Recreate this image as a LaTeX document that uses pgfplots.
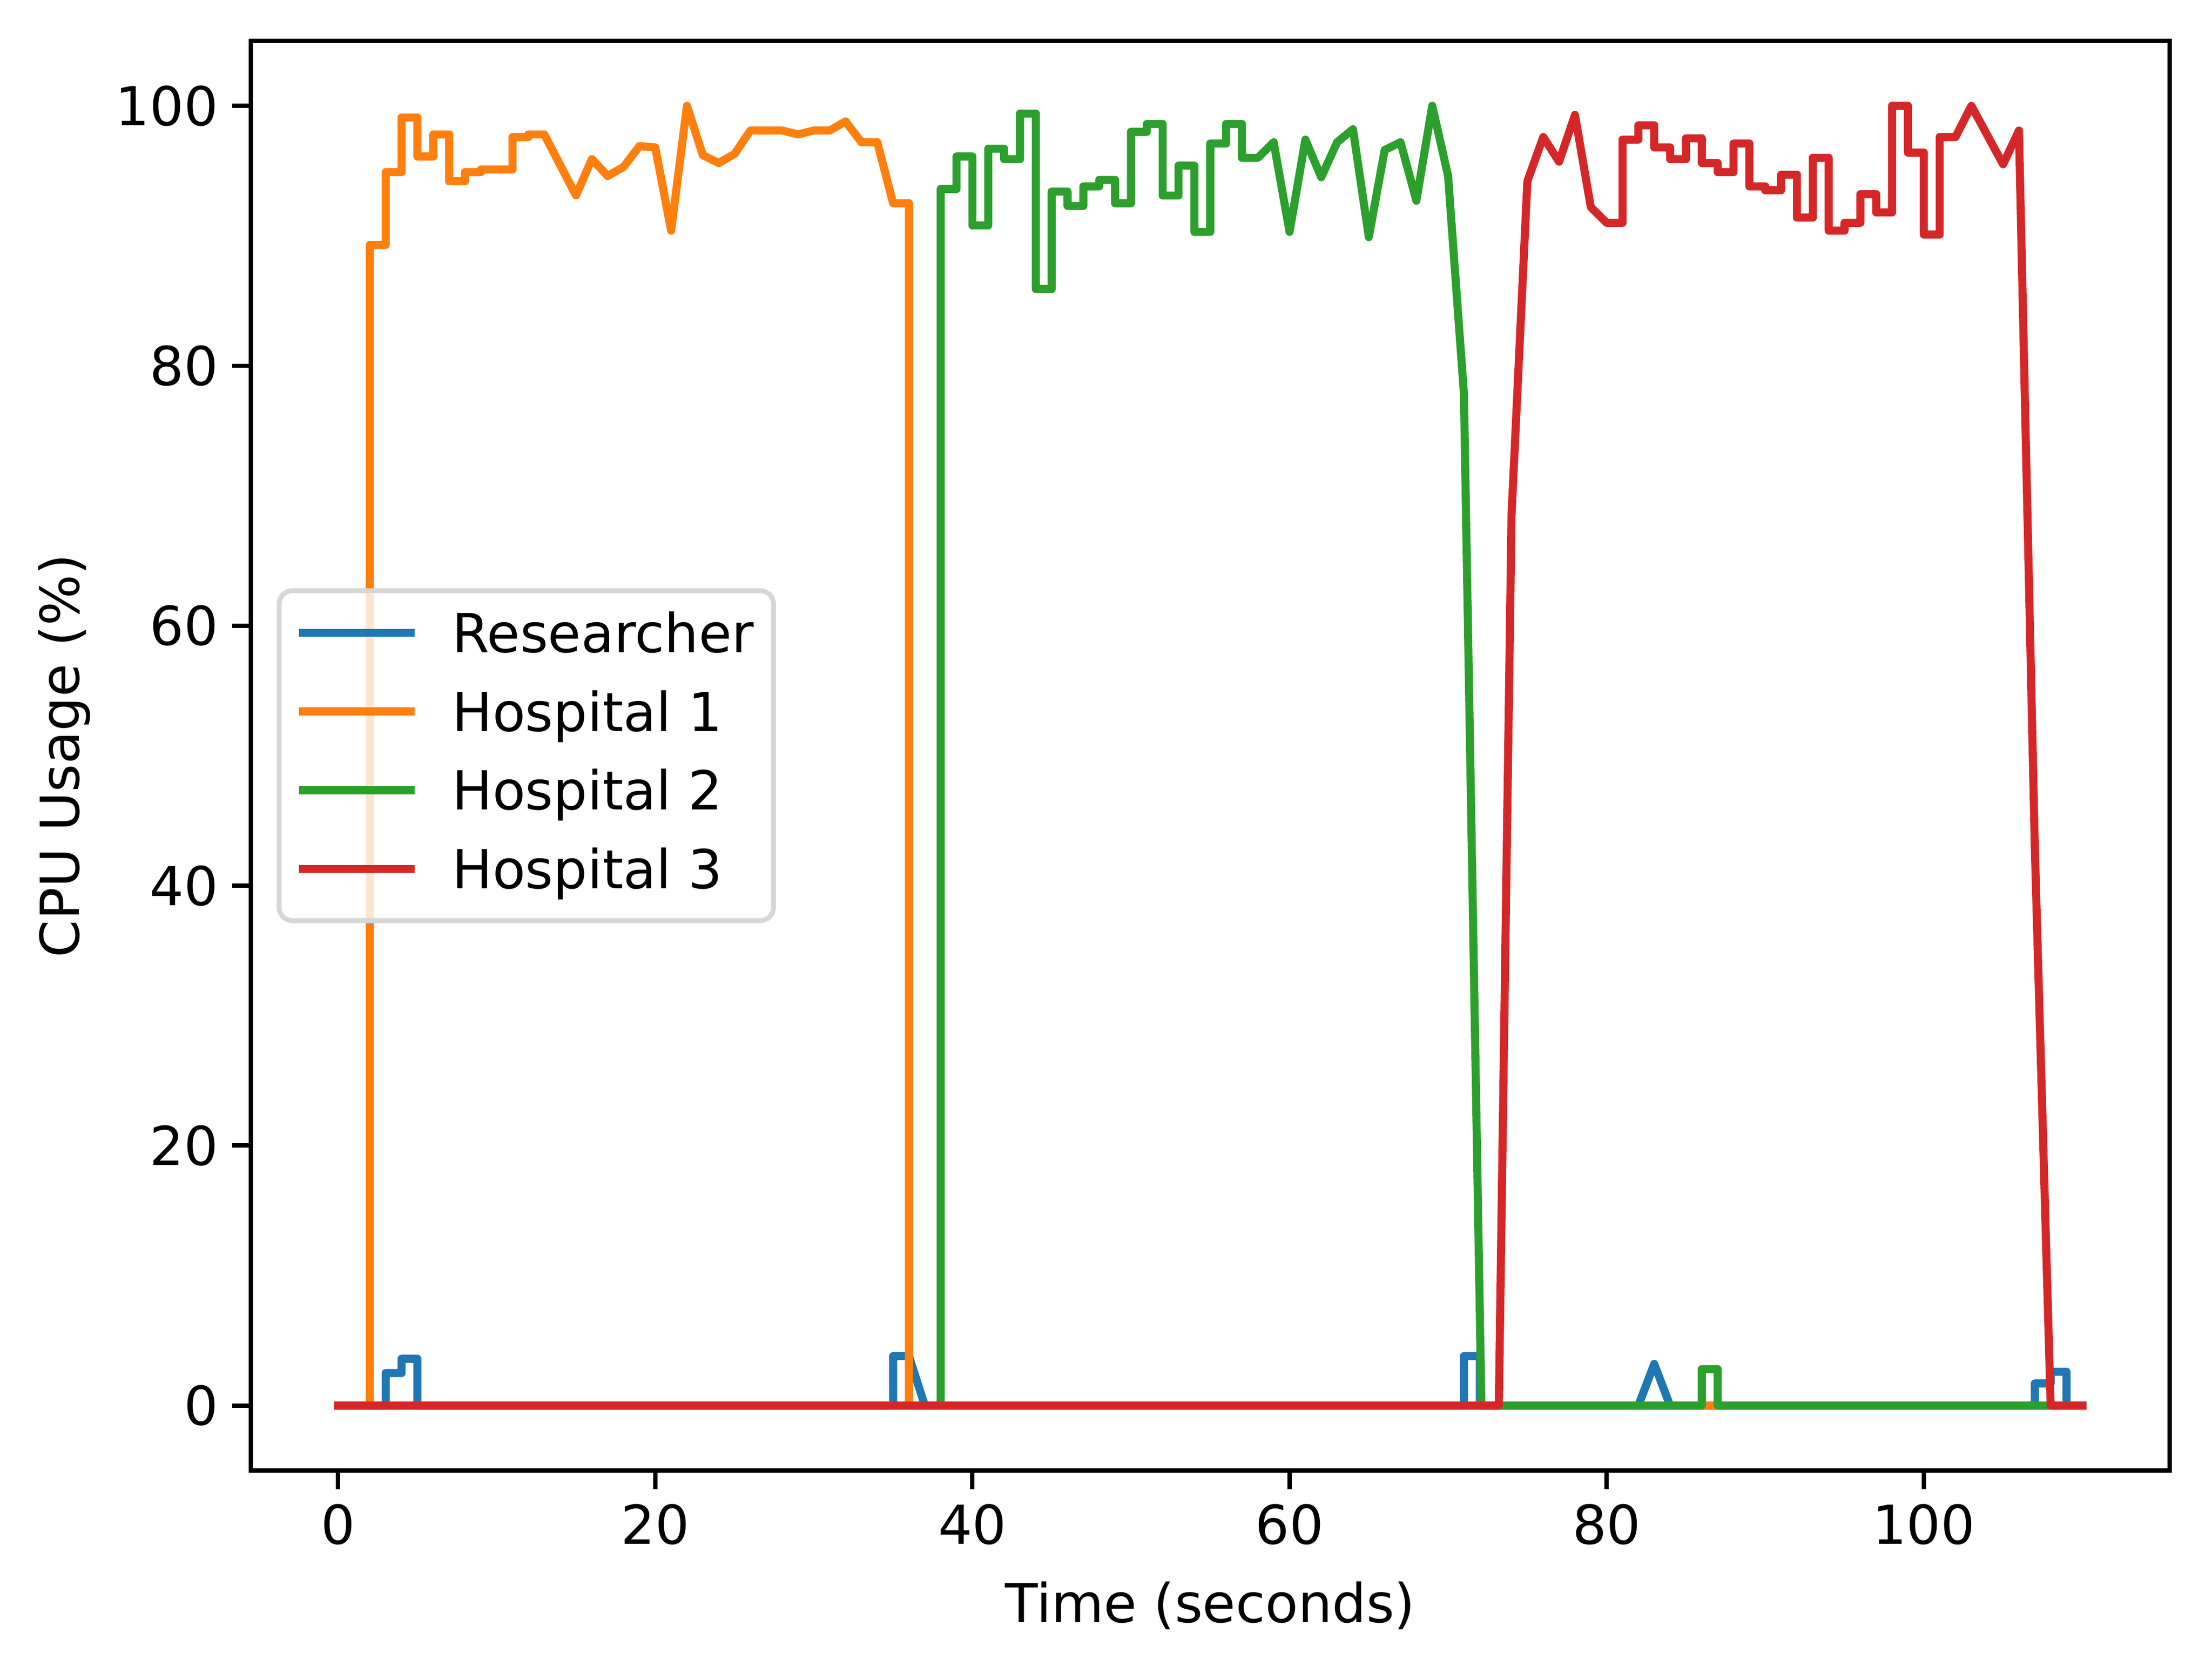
\documentclass[border=0pt]{standalone}
\usepackage{fontspec}
\setmainfont{DejaVu Sans}
\usepackage{pgfplots}
\pgfplotsset{compat=1.18}
\definecolor{c0}{HTML}{1F77B4}
\definecolor{c1}{HTML}{FF7F0E}
\definecolor{c2}{HTML}{2CA02C}
\definecolor{c3}{HTML}{D62728}
\definecolor{legframe}{HTML}{D6D6D6}
\begin{document}
\begin{tikzpicture}
\useasboundingbox (-46.7pt,-37.6pt) rectangle (365.0pt,273.7pt);
\begin{axis}[
  scale only axis,
  width=357.1pt, height=266.1pt,
  xmin=-5.5, xmax=115.5,
  ymin=-5, ymax=105,
  xtick={0,20,40,60,80,100},
  ytick={0,20,40,60,80,100},
  tick pos=left,
  tick align=outside,
  major tick length=3.5pt,
  every tick/.style={black, line width=0.8pt},
  axis line style={line width=0.8pt},
  /pgf/number format/assume math mode=true,
  tick label style={font=\fontsize{10}{12}\selectfont},
  xticklabel style={anchor=north, inner sep=0pt, yshift=-2.6pt},
  yticklabel style={anchor=east, inner sep=0pt, xshift=-2.4pt},
  xlabel={Time (seconds)},
  ylabel={CPU Usage (\%)},
  label style={font=\fontsize{10}{12}\selectfont},
  xlabel style={at={(axis description cs:0.5,0)}, anchor=north, inner sep=0pt, yshift=-20.5pt},
  ylabel style={at={(axis description cs:-0.0896,0.5)}, anchor=base, inner sep=0pt},
  every axis plot/.append style={line width=1.5pt, line join=round, line cap=rect},
  legend image code/.code={\draw[line cap=rect] (0pt,3.65pt) -- (20pt,3.65pt);},
  legend style={
    at={(rel axis cs:0,0.5)}, anchor=west, xshift=4.8pt,
    draw=legframe, line width=0.9pt, rounded corners=2.5pt,
    fill=white, fill opacity=0.8, text opacity=1,
    inner xsep=3.7pt, inner ysep=4.2pt,
    row sep=5.54pt, column sep=7pt,
    font=\fontsize{10}{12}\selectfont,
    cells={anchor=base west},
    nodes={inner sep=0pt, text height=7.3pt, text depth=1.8pt},
  },
]
% Researcher
\addplot[c0] coordinates {
(0,0) (3,0) (3,2.5) (4,2.5) (4,3.6) (5,3.6) (5,0) (35,0) (35,3.8) (36,3.8) (37,0)
(71,0) (71,3.8) (72,3.8) (72,0) (82,0) (83,3.2) (84,0) (107,0) (107,1.7) (108,1.7)
(108,2.6) (109,2.6) (109,0) (110,0)
};
\addlegendentry{Researcher}
% Hospital 1
\addplot[c1] coordinates {
(0,0) (2,0) (2,89.3) (3,89.3) (3,94.9) (4,94.9) (4,99.1) (5,99.1) (5,96.1) (6,96.1)
(6,97.8) (7,97.8) (7,94.2) (8,94.2) (8,94.9) (9,94.9) (9,95.1) (11,95.1) (11,97.6)
(12,97.6) (12,97.8) (13,97.8) (15,93.1) (16,95.9) (17,94.6) (18,95.3) (19,96.9)
(20,96.8) (21,90.4) (22,100) (23,96.2) (24,95.6) (25,96.3) (26,98.1) (28,98.1)
(29,97.8) (30,98.1) (31,98.1) (32,98.8) (33,97.2) (34,97.2) (35,92.5) (36,92.5)
(36,0) (110,0)
};
\addlegendentry{Hospital 1}
% Hospital 2
\addplot[c2] coordinates {
(0,0) (38,0) (38,93.6) (39,93.6) (39,96.1) (40,96.1) (40,90.8) (41,90.8) (41,96.7)
(42,96.7) (42,95.9) (43,95.9) (43,99.4) (44,99.4) (44,85.9) (45,85.9) (45,93.4)
(46,93.4) (46,92.3) (47,92.3) (47,93.8) (48,93.8) (48,94.3) (49,94.3) (49,92.5)
(50,92.5) (50,98.0) (51,98.0) (51,98.6) (52,98.6) (52,93.1) (53,93.1) (53,95.4)
(54,95.4) (54,90.3) (55,90.3) (55,97.1) (56,97.1) (56,98.6) (57,98.6) (57,96.0)
(58,96.0) (59,97.2) (60,90.3) (61,97.4) (62,94.5) (63,97.2) (64,98.2) (65,89.9)
(66,96.6) (67,97.2) (68,92.7) (69,100) (70,94.6) (71,77.8) (72.1,0) (86,0)
(86,2.8) (87,2.8) (87,0) (110,0)
};
\addlegendentry{Hospital 2}
% Hospital 3
\addplot[c3] coordinates {
(0,0) (73.2,0) (74,68.5) (75,94.2) (76,97.6) (77,95.7) (78,99.3) (79,92.2) (80,91.0)
(81,91.0) (81,97.4) (82,97.4) (82,98.5) (83,98.5) (83,96.8) (84,96.8) (84,95.9)
(85,95.9) (85,97.5) (86,97.5) (86,95.6) (87,95.6) (87,94.9) (88,94.9) (88,97.1)
(89,97.1) (89,93.8) (90,93.8) (90,93.5) (91,93.5) (91,94.7) (92,94.7) (92,91.4)
(93,91.4) (93,96.0) (94,96.0) (94,90.4) (95,90.4) (95,91.0) (96,91.0) (96,93.2)
(97,93.2) (97,91.8) (98,91.8) (98,100) (99,100) (99,96.4) (100,96.4) (100,90.1)
(101,90.1) (101,97.6) (102,97.6) (103,100) (105,95.5) (106,98.1) (107,43) (108,0)
(110,0)
};
\addlegendentry{Hospital 3}
\end{axis}
\end{tikzpicture}
\end{document}
